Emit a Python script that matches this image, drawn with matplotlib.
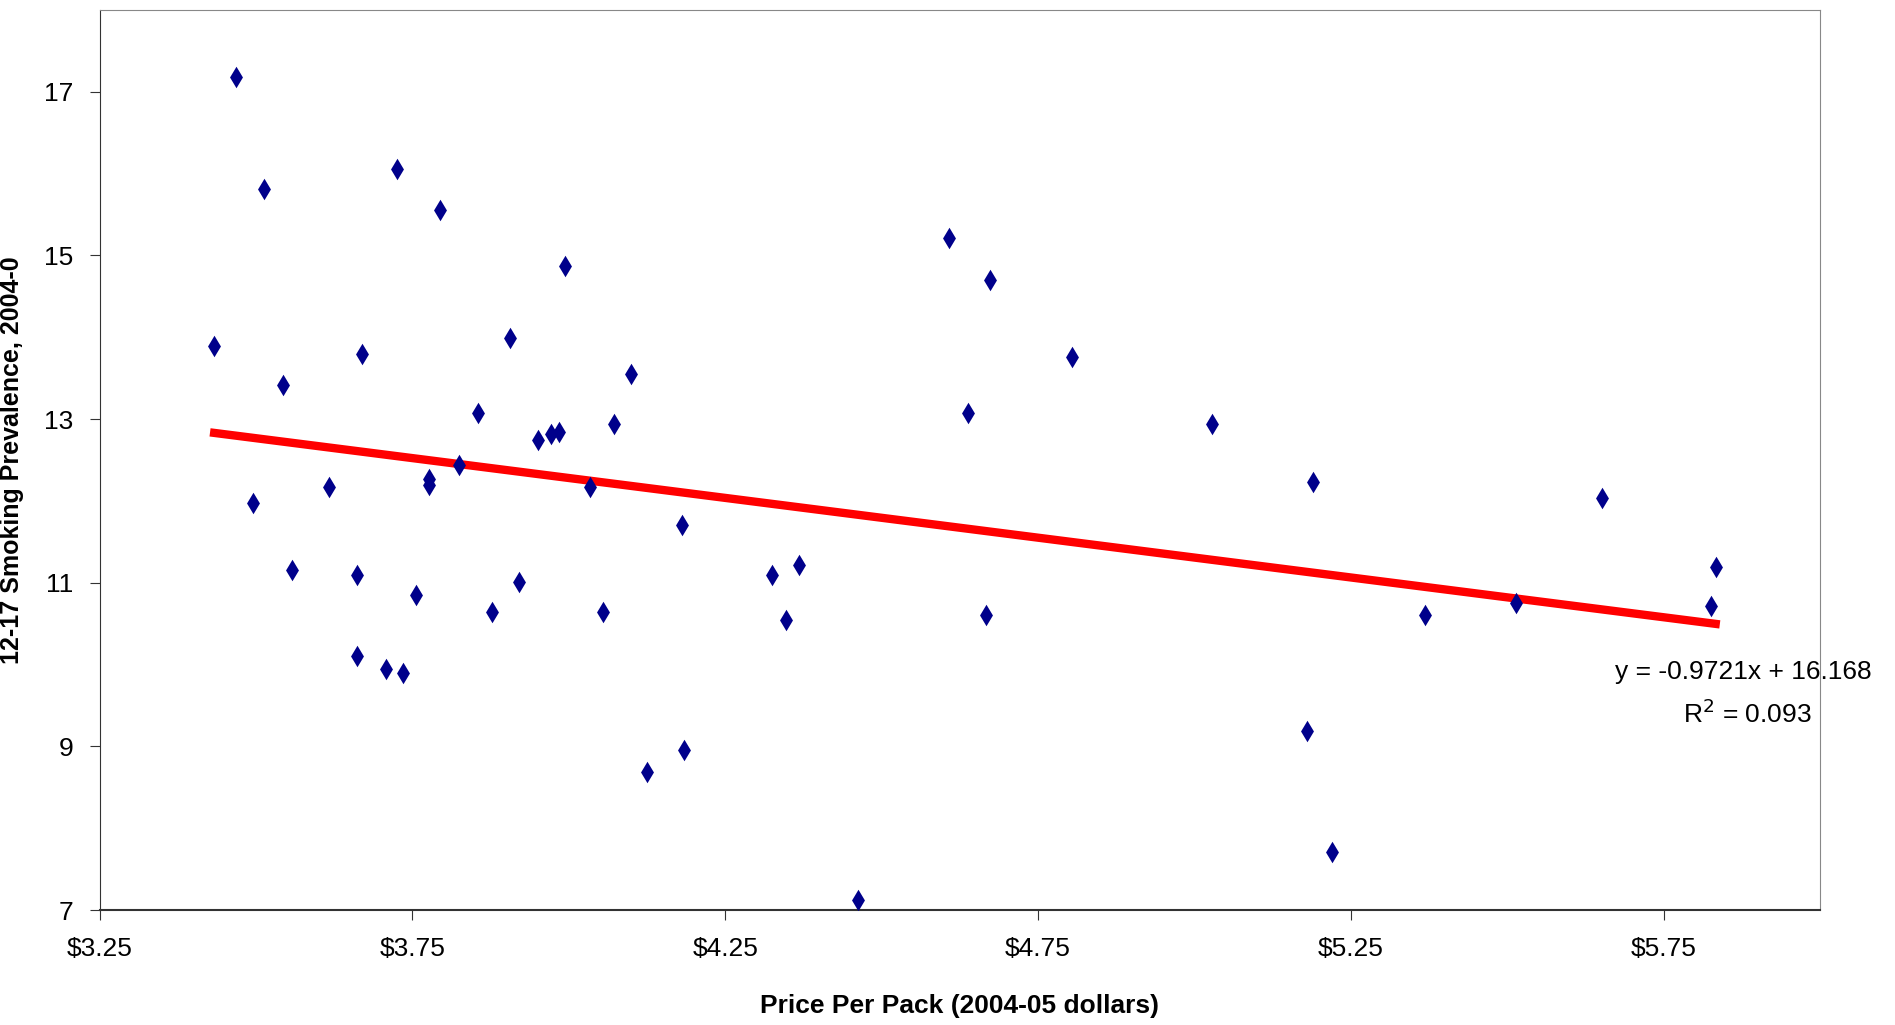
import matplotlib.pyplot as plt
import numpy as np

price = [3.433, 3.468, 3.513, 3.495, 3.543, 3.557, 3.617, 3.669, 3.661, 3.661,
         3.708, 3.735, 3.725, 3.756, 3.777, 3.777, 3.794, 3.825, 3.854, 3.877,
         3.906, 3.920, 3.951, 3.972, 3.984, 3.993, 4.034, 4.055, 4.072, 4.099,
         4.125, 4.181, 4.184, 4.325, 4.347, 4.368, 4.462, 4.607, 4.638, 4.667,
         4.673, 4.804, 5.028, 5.179, 5.190, 5.219, 5.368, 5.514, 5.652, 5.825,
         5.833]
prevalence = [13.89, 17.18, 15.81, 11.98, 13.41, 11.16, 12.17, 13.79, 11.09, 10.11,
              9.95, 9.90, 16.05, 10.85, 12.27, 12.20, 15.55, 12.44, 13.07, 10.64,
              13.99, 11.01, 12.75, 12.82, 12.84, 14.87, 12.17, 10.64, 12.94, 13.55,
              8.69, 11.70, 8.96, 11.09, 10.54, 11.22, 7.13, 15.21, 13.07, 10.61,
              14.70, 13.76, 12.94, 9.19, 12.23, 7.71, 10.61, 10.75, 12.04, 10.72,
              11.19]
slope, intercept = -0.9721, 16.168
xticks = [3.25, 3.75, 4.25, 4.75, 5.25, 5.75]
yticks = [7, 9, 11, 13, 15, 17]

plt.rcParams['font.family'] = ['Liberation Sans', 'DejaVu Sans']

fig = plt.figure(figsize=(18.95, 10.25), dpi=100)
ax = fig.add_axes([0.0526, 0.112, 0.9134 - 0.0055, 0.8785])

ax.scatter(price, prevalence, marker='d', s=120, color='#00008B', zorder=3,
           linewidths=0)
xl = np.array([min(price), max(price)])
ax.plot(xl, slope * xl + intercept, color='#FF0000', lw=6, zorder=2)

ax.set_xlim(3.25, 6.0)
ax.set_ylim(7, 18.0)
ax.set_xticks(xticks)
ax.set_xticklabels([f"${t:.2f}" for t in xticks])
ax.set_yticks(yticks)
ax.tick_params(direction='out', length=7, labelsize=19, pad=12, color='#333333')
for s in ax.spines.values():
    s.set_color('#888888')
ax.spines['bottom'].set_color('#333333')
ax.spines['left'].set_color('#333333')
ax.spines['bottom'].set_linewidth(1.5)

ax.set_xlabel('Price Per Pack (2004-05 dollars)', fontsize=19, fontweight='bold',
              labelpad=24)
ax.set_ylabel('12-17 Smoking Prevalence, 2004-0', fontsize=18, fontweight='bold',
              labelpad=14)

ax.text(1.03, 0.265, f"y = {slope}x + {intercept}", transform=ax.transAxes,
        fontsize=19, ha='right', va='center', clip_on=False)
ax.text(0.995, 0.218, r"R$^2$ = 0.093", transform=ax.transAxes,
        fontsize=19, ha='right', va='center')

fig.savefig('out.png')
